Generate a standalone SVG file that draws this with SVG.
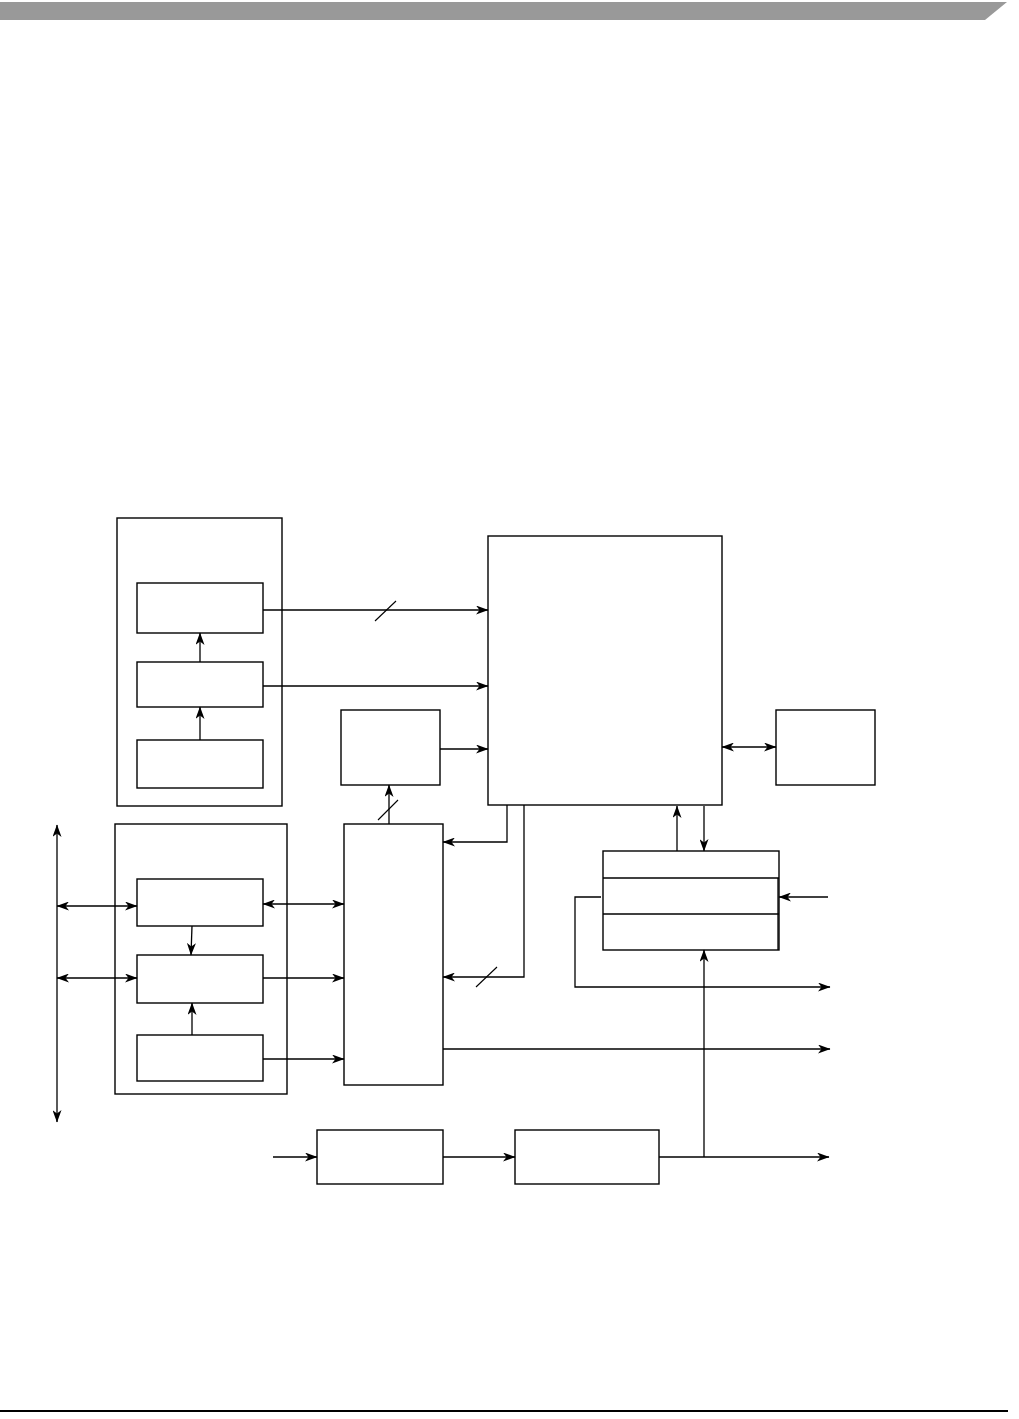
<svg xmlns="http://www.w3.org/2000/svg" width="1019" height="1419" viewBox="0 0 1019 1419">
<style>
.box{fill:#fff;stroke:#000;stroke-width:1.4}
.ln{fill:none;stroke:#000;stroke-width:1.3}
.sl{fill:none;stroke:#000;stroke-width:1.1}
.e{marker-end:url(#ah)}
.b{marker-start:url(#ah);marker-end:url(#ah)}
</style>
<defs>
<marker id="ah" markerUnits="userSpaceOnUse" markerWidth="13" markerHeight="9" refX="12" refY="4.5" orient="auto-start-reverse">
<path d="M0,0 L12.5,4.5 L0,9 L3.5,4.5 z" fill="#000"/>
</marker>
</defs>
<rect width="1019" height="1419" fill="#fff"/>
<g id="header">
<polygon points="0,2 1007,2 985,20 0,20" fill="#999"/>
</g>
<g id="footer">
<line x1="0" y1="1411" x2="1008" y2="1411" stroke="#000" stroke-width="2"/>
</g>
<g id="group1"><rect class="box" x="117" y="518" width="165" height="288"/></g>
<g id="nodeA"><rect class="box" x="137" y="583" width="126" height="50"/></g>
<g id="nodeB"><rect class="box" x="137" y="662" width="126" height="45"/></g>
<g id="nodeC"><rect class="box" x="137" y="740" width="126" height="48"/></g>
<g id="nodeD"><rect class="box" x="341" y="710" width="99" height="75"/></g>
<g id="main"><rect class="box" x="488" y="536" width="234" height="269"/></g>
<g id="nodeJ"><rect class="box" x="776" y="710" width="99" height="75"/></g>
<g id="group2"><rect class="box" x="115" y="824" width="172" height="270"/></g>
<g id="nodeE"><rect class="box" x="137" y="879" width="126" height="47"/></g>
<g id="nodeF"><rect class="box" x="137" y="955" width="126" height="48"/></g>
<g id="nodeG"><rect class="box" x="137" y="1035" width="126" height="46"/></g>
<g id="mux"><rect class="box" x="344" y="824" width="99" height="261"/></g>
<g id="regs">
<rect class="box" x="603" y="851" width="176" height="99"/>
<line class="ln" x1="603" y1="878" x2="779" y2="878"/>
<line class="ln" x1="603" y1="914" x2="779" y2="914"/>
<line class="ln" x1="778" y1="878" x2="778" y2="950"/>
</g>
<g id="nodeH"><rect class="box" x="317" y="1130" width="126" height="54"/></g>
<g id="nodeI"><rect class="box" x="515" y="1130" width="144" height="54"/></g>
<g id="connectors">
<line class="ln e" x1="263" y1="610" x2="488" y2="610"/>
<line class="sl" x1="375" y1="621" x2="396" y2="601"/>
<line class="ln e" x1="263" y1="686" x2="488" y2="686"/>
<line class="ln e" x1="200" y1="662" x2="200" y2="633"/>
<line class="ln e" x1="200" y1="740" x2="200" y2="707"/>
<line class="ln e" x1="440" y1="749" x2="488" y2="749"/>
<line class="ln e" x1="389" y1="824" x2="389" y2="785"/>
<line class="sl" x1="378" y1="820" x2="398" y2="800"/>
<line class="ln b" x1="722" y1="747" x2="776" y2="747"/>
<line class="ln b" x1="57" y1="825" x2="57" y2="1122"/>
<line class="ln b" x1="57" y1="906" x2="137" y2="906"/>
<line class="ln b" x1="57" y1="978" x2="137" y2="978"/>
<line class="ln e" x1="192" y1="926" x2="191" y2="955"/>
<line class="ln e" x1="192" y1="1035" x2="192" y2="1003"/>
<line class="ln b" x1="263" y1="904" x2="344" y2="904"/>
<line class="ln e" x1="263" y1="978" x2="344" y2="978"/>
<line class="ln e" x1="263" y1="1059" x2="344" y2="1059"/>
<polyline class="ln e" points="507,805 507,842 443,842"/>
<polyline class="ln e" points="524,805 524,977 443,977"/>
<line class="sl" x1="476" y1="987" x2="497" y2="967"/>
<line class="ln e" x1="677" y1="851" x2="677" y2="806"/>
<line class="ln e" x1="704" y1="806" x2="704" y2="851"/>
<line class="ln e" x1="828" y1="897" x2="779" y2="897"/>
<polyline class="ln e" points="601,897 575,897 575,987 830,987"/>
<line class="ln e" x1="443" y1="1049" x2="830" y2="1049"/>
<line class="ln e" x1="273" y1="1157" x2="317" y2="1157"/>
<line class="ln e" x1="443" y1="1157" x2="515" y2="1157"/>
<line class="ln e" x1="659" y1="1157" x2="829" y2="1157"/>
<line class="ln e" x1="704" y1="1157" x2="704" y2="950"/>
</g>
</svg>
